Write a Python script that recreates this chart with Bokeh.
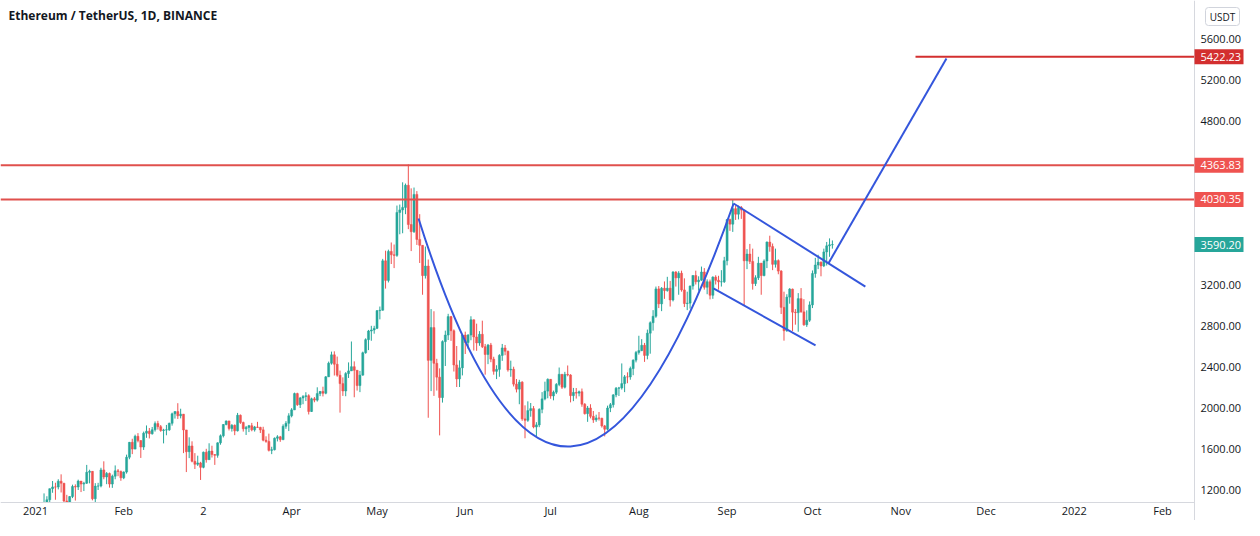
import pandas as pd
from bokeh.plotting import figure
from bokeh.models import Range1d
from bokeh.core.properties import value
from bokeh.embed import file_html
from bokeh.resources import INLINE

# ---------------- data (ETH/USDT daily) ----------------
start_date = "2021-01-01"
first_open = 737.0
closes = [
    # Jan
    730, 775, 979, 1041, 1100, 1208, 1225, 1224, 1281, 1262, 1088, 1045, 1131, 1229, 1224, 1282,
    1253, 1262, 1368, 1377, 1110, 1233, 1234, 1391, 1322, 1357, 1253, 1330, 1382, 1376, 1314,
    # Feb
    1370, 1515, 1660, 1594, 1719, 1677, 1614, 1750, 1769, 1744, 1783, 1843, 1813, 1776, 1781, 1782,
    1846, 1938, 1960, 1919, 1935, 1781, 1569, 1625, 1475, 1446, 1459, 1416,
    # Mar
    1564, 1491, 1575, 1541, 1533, 1655, 1724, 1834, 1869, 1795, 1826, 1772, 1924, 1854, 1792, 1806,
    1823, 1782, 1810, 1806, 1782, 1681, 1669, 1582, 1588, 1700, 1714, 1687, 1817, 1846, 1919,
    # Apr
    1977, 2136, 2027, 2093, 2107, 2115, 1961, 2085, 2072, 2136, 2157, 2139, 2299, 2432, 2514, 2422,
    2315, 2233, 2161, 2331, 2357, 2398, 2363, 2214, 2316, 2534, 2662, 2746, 2756, 2772,
    # May
    2945, 2949, 3431, 3240, 3523, 3490, 3484, 3903, 3928, 3952, 4168, 3785, 3715, 4079, 3640, 3582,
    3287, 3380, 2460, 2780, 2431, 2296, 2097, 2643, 2707, 2887, 2749, 2415, 2279, 2387, 2707,
    # Jun
    2634, 2707, 2856, 2688, 2630, 2714, 2593, 2517, 2609, 2472, 2353, 2372, 2508, 2581, 2549, 2367,
    2373, 2228, 2179, 2247, 1889, 1875, 1970, 1989, 1810, 1830, 1982, 2084, 2160, 2275,
    # Jul
    2113, 2149, 2225, 2324, 2198, 2323, 2317, 2116, 2147, 2140, 2154, 2032, 1940, 1995, 1914, 1879,
    1898, 1895, 1820, 1788, 1995, 2027, 2123, 2188, 2191, 2233, 2299, 2298, 2380, 2462, 2537,
    # Aug
    2555, 2607, 2508, 2725, 2827, 2890, 3157, 3011, 3163, 3141, 3164, 3049, 3322, 3265, 3310, 3147,
    3014, 3018, 3185, 3288, 3227, 3242, 3322, 3173, 3227, 3095, 3272, 3241, 3226, 3227, 3432,
    # Sep
    3834, 3789, 3940, 3886, 3952, 3926, 3431, 3497, 3425, 3209, 3266, 3408, 3287, 3429, 3614, 3570,
    3397, 3433, 3331, 2977, 2749, 3077, 3155, 2930, 2925, 3062, 2933, 2807, 2851, 3001,
    # Oct
    3307, 3390, 3418, 3381, 3518, 3577, 3587, 3590.20,
]
highs = [
    749, 787, 1011, 1162, 1134, 1210, 1283, 1266, 1300, 1348, 1260, 1148, 1135, 1247, 1250, 1296,
    1281, 1275, 1440, 1393, 1380, 1262, 1265, 1412, 1475, 1370, 1365, 1345, 1435, 1400, 1385,
    1377, 1540, 1664, 1695, 1735, 1750, 1680, 1765, 1825, 1800, 1810, 1864, 1870, 1829, 1792, 1830,
    1852, 1950, 1964, 2042, 1988, 1937, 1781, 1709, 1670, 1555, 1530, 1470,
    1570, 1597, 1651, 1627, 1546, 1660, 1737, 1839, 1873, 1870, 1838, 1835, 1947, 1932, 1862, 1820,
    1830, 1850, 1820, 1860, 1812, 1812, 1719, 1745, 1617, 1708, 1730, 1723, 1836, 1867, 1944,
    1994, 2145, 2144, 2103, 2121, 2149, 2129, 2096, 2102, 2197, 2160, 2203, 2307, 2448, 2545, 2548,
    2497, 2360, 2294, 2345, 2440, 2644, 2450, 2365, 2357, 2545, 2675, 2757, 2797, 2797,
    2950, 2985, 3450, 3530, 3540, 3610, 3590, 3970, 3980, 4197, 4185, 4372, 4138, 4146, 4111, 3886,
    3584, 3570, 3444, 2960, 2939, 2475, 2382, 2655, 2750, 2914, 2893, 2762, 2600, 2460, 2713,
    2740, 2716, 2890, 2858, 2818, 2745, 2847, 2620, 2620, 2630, 2495, 2412, 2520, 2620, 2610, 2555,
    2457, 2398, 2278, 2270, 2257, 2021, 2060, 2044, 2014, 1857, 1992, 2150, 2252, 2284,
    2278, 2165, 2238, 2390, 2324, 2348, 2410, 2325, 2191, 2190, 2165, 2185, 2043, 2015, 2032, 1966,
    1930, 1956, 1900, 1830, 2018, 2044, 2130, 2200, 2201, 2430, 2317, 2343, 2399, 2470, 2552,
    2700, 2667, 2630, 2760, 2840, 2950, 3180, 3185, 3175, 3230, 3275, 3235, 3330, 3330, 3330, 3335,
    3260, 3130, 3190, 3290, 3335, 3280, 3375, 3360, 3250, 3248, 3280, 3290, 3285, 3340, 3470,
    3840, 3843, 4028, 3971, 3970, 3966, 3920, 3545, 3596, 3550, 3290, 3470, 3410, 3445, 3620, 3676,
    3600, 3550, 3445, 3340, 3130, 3105, 3165, 3160, 2960, 3116, 3165, 3057, 2948, 3035,
    3337, 3460, 3490, 3425, 3550, 3615, 3650, 3630,
]
lows = [
    715, 716, 774, 890, 996, 1064, 1168, 1100, 1201, 1171, 920, 1010, 1029, 1116, 1092, 1195,
    1175, 1185, 1254, 1260, 1094, 1040, 1195, 1221, 1300, 1252, 1218, 1216, 1300, 1330, 1285,
    1301, 1355, 1495, 1545, 1593, 1660, 1508, 1586, 1704, 1698, 1735, 1765, 1785, 1763, 1650, 1729,
    1772, 1823, 1892, 1888, 1894, 1555, 1370, 1506, 1465, 1400, 1430, 1293,
    1407, 1462, 1490, 1512, 1440, 1510, 1637, 1708, 1826, 1776, 1765, 1730, 1766, 1840, 1765, 1732,
    1760, 1768, 1765, 1800, 1751, 1670, 1656, 1571, 1545, 1581, 1669, 1665, 1681, 1792, 1770,
    1904, 1975, 2016, 1995, 2032, 2063, 1932, 1956, 2051, 2058, 2111, 2108, 2129, 2300, 2418, 2312,
    2300, 1950, 2113, 2110, 2288, 2356, 2100, 2165, 2150, 2310, 2525, 2560, 2651, 2720,
    2765, 2860, 2945, 3160, 3220, 3400, 3360, 3470, 3690, 3700, 3886, 3740, 3526, 3703, 3586, 3410,
    3100, 3258, 1900, 2160, 2113, 2165, 1728, 2048, 2405, 2658, 2650, 2351, 2200, 2200, 2313,
    2522, 2573, 2656, 2556, 2553, 2602, 2580, 2320, 2423, 2442, 2320, 2277, 2300, 2455, 2510, 2350,
    2300, 2205, 2147, 2032, 1870, 1700, 1860, 1910, 1797, 1719, 1808, 1944, 2070, 2090,
    2085, 2070, 2131, 2208, 2181, 2186, 2304, 2050, 2062, 2087, 2109, 2007, 1931, 1860, 1894, 1850,
    1860, 1873, 1804, 1718, 1776, 1955, 2000, 2100, 2112, 2175, 2150, 2237, 2271, 2315, 2440,
    2516, 2550, 2445, 2470, 2525, 2750, 2875, 2970, 2940, 3060, 3130, 2985, 3035, 3180, 3100, 3130,
    2980, 2950, 2965, 3150, 3200, 3140, 3236, 3150, 3105, 3055, 3060, 3200, 3150, 3180, 3215,
    3387, 3723, 3713, 3830, 3835, 3840, 3000, 3350, 3400, 3150, 3185, 3244, 3100, 3280, 3360, 3520,
    3340, 3365, 3300, 2912, 2652, 2738, 3013, 2745, 2808, 2739, 2925, 2797, 2786, 2835,
    2970, 3266, 3350, 3280, 3370, 3385, 3470, 3550,
]
opens = [first_open] + closes[:-1]

# axis ticks
date_tick_dates = ["2021-01-01", "2021-02-01", "2021-03-01", "2021-04-01", "2021-05-01", "2021-06-01",
                   "2021-07-01", "2021-08-01", "2021-09-01", "2021-10-01", "2021-11-01", "2021-12-01",
                   "2022-01-01", "2022-02-01"]
date_tick_labels = ["2021", "Feb", "2", "Apr", "May", "Jun", "Jul", "Aug", "Sep", "Oct", "Nov", "Dec",
                    "2022", "Feb"]
price_ticks = [1200, 1600, 2000, 2400, 2800, 3200, 4800, 5200, 5600]

# horizontal levels drawn on the chart
level_prices = [4363.83, 4030.35]
target_price = 5422.23
target_start = "2021-11-06 05:00"
last_price = 3590.20

# blue drawing anchors (date, price)
cup_start = ("2021-05-15 14:00", 3844)
cup_ctrl = ("2021-07-06 00:00", -678)
cup_end = ("2021-09-03 07:00", 3990)
flag_upper = [("2021-09-03 07:00", 3990), ("2021-10-19 14:00", 3180)]
flag_lower = [("2021-08-27 05:00", 3161), ("2021-10-02 02:00", 2605)]
target_leg = [("2021-10-06 14:00", 3405), ("2021-11-17 02:00", 5405)]

# ---------------- helpers (pixel layout of the screen) ----------------
T0 = pd.Timestamp(start_date)


def dday(s):
    return (pd.Timestamp(s) - T0) / pd.Timedelta(days=1)


PX_PER_DAY = 2.846
PX_PER_USD = 0.1025
W, H = 1244, 520
PANE_R = 1194      # x of price-scale border
PANE_B = 502       # y of time-scale border


def px_day(px):
    return (px - 35) / PX_PER_DAY


def py_price(py):
    return 1200 + (489 - py) / PX_PER_USD


dates = pd.date_range(start_date, periods=len(closes), freq="D")
xs = [float(dday(d)) for d in dates]

UP = "#26a69a"
DOWN = "#ef5350"
BLUE = "#3456dc"
RED_LINE = "#e0504d"
RED_DARK = "#d32f2f"
AXIS_LINE = "#d6d8de"
TXT = "#131722"
FONT = "Open Sans"

X0, X1 = px_day(0), px_day(W)
Y0, Y1 = py_price(H), py_price(0)

p = figure(width=W, height=H, output_backend="svg", toolbar_location=None,
           x_range=Range1d(X0, X1), y_range=Range1d(Y0, Y1),
           x_axis_location=None, y_axis_location=None,
           min_border_left=0, min_border_top=0, min_border_right=0, min_border_bottom=0)
p.outline_line_color = None
p.background_fill_color = "white"
p.border_fill_color = "white"
for g in p.grid:
    g.visible = False

# ---- candles ----
inc = [c >= o for o, c in zip(opens, closes)]
colors = [UP if u else DOWN for u in inc]
tops = [max(o, c) for o, c in zip(opens, closes)]
bots = [min(o, c) for o, c in zip(opens, closes)]
hi = [max(h, t) for h, t in zip(highs, tops)]
lo = [min(l, b) for l, b in zip(lows, bots)]
p.segment(x0=xs, y0=lo, x1=xs, y1=hi, line_color=colors, line_width=1)
p.vbar(x=xs, width=0.72, top=tops, bottom=bots, fill_color=colors, line_color=colors, line_width=0.5)

# ---- red horizontal levels ----
p.segment(x0=[X0] * len(level_prices), x1=[px_day(PANE_R)] * len(level_prices),
          y0=level_prices, y1=level_prices, line_color=RED_LINE, line_width=2)
p.segment(x0=[dday(target_start)], x1=[px_day(PANE_R)], y0=[target_price], y1=[target_price],
          line_color=RED_DARK, line_width=2)

# ---- blue drawings ----
p.quadratic(x0=[dday(cup_start[0])], y0=[cup_start[1]], cx=[dday(cup_ctrl[0])], cy=[cup_ctrl[1]],
            x1=[dday(cup_end[0])], y1=[cup_end[1]], line_color=BLUE, line_width=2)
for seg in (flag_upper, flag_lower, target_leg):
    p.line(x=[dday(s[0]) for s in seg], y=[s[1] for s in seg], line_color=BLUE, line_width=2)

# ---- scale areas (price scale on the right, time scale at the bottom) ----
p.quad(left=[px_day(PANE_R), X0], right=[X1, X1], bottom=[Y0, Y0], top=[Y1, py_price(PANE_B)],
       fill_color="white", line_color=None)
p.segment(x0=[px_day(PANE_R), X0], x1=[px_day(PANE_R), px_day(PANE_R)],
          y0=[Y0, py_price(PANE_B)], y1=[Y1, py_price(PANE_B)], line_color=AXIS_LINE, line_width=1)

# time-scale labels
p.text(x=[dday(d) for d in date_tick_dates], y=[py_price(510)] * len(date_tick_dates),
       text=date_tick_labels, text_font=value(FONT), text_font_size="11px", text_color=TXT,
       text_align="center", text_baseline="middle")

# price-scale labels
p.text(x=[px_day(1200)] * len(price_ticks), y=price_ticks, text=[f"{t:.2f}" for t in price_ticks],
       text_font=value(FONT), text_font_size="11px", text_color=TXT,
       text_align="left", text_baseline="middle")

# price badges
badge_prices = [target_price, level_prices[0], level_prices[1], last_price]
badge_colors = [RED_DARK, DOWN, DOWN, UP]
half = 7.5 / PX_PER_USD
p.quad(left=[px_day(PANE_R)] * 4, right=[px_day(1243)] * 4, bottom=[b - half for b in badge_prices],
       top=[b + half for b in badge_prices], fill_color=badge_colors, line_color=None)
p.text(x=[px_day(1200)] * 4, y=badge_prices, text=[f"{b:.2f}" for b in badge_prices],
       text_font=value(FONT), text_font_size="11px", text_color="white",
       text_align="left", text_baseline="middle")

# currency box
p.quad(left=[px_day(1205)], right=[px_day(1239)], bottom=[py_price(25)], top=[py_price(7)],
       fill_color="white", line_color="#d1d4dc", line_width=1, border_radius=3)
p.text(x=[px_day(1222)], y=[py_price(16)], text=["USDT"], text_font=value(FONT),
       text_font_size="10px", text_color=TXT, text_align="center", text_baseline="middle")

# ---- title ----
p.text(x=[px_day(8)], y=[py_price(15)], text=["Ethereum / TetherUS, 1D, BINANCE"],
       text_font=value(FONT), text_font_size="12px", text_font_style="bold", text_color=TXT,
       text_align="left", text_baseline="middle")

open("out.html", "w").write(file_html(p, INLINE))
